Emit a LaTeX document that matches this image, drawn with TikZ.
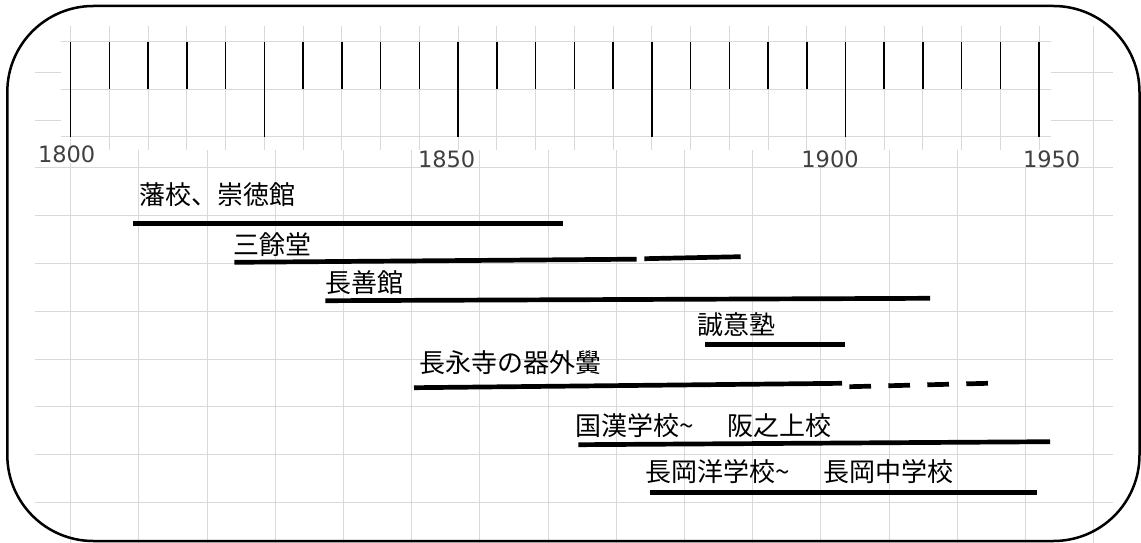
\documentclass[tikz,border=0pt]{standalone}
\usepackage{fontspec}
\usepackage{tikz}
\usepackage{xcolor}
\usetikzlibrary{positioning}
\newfontfamily\jpfont{Noto Sans CJK JP}
\newfontfamily\yearfont{DejaVu Sans}
\definecolor{cellgray}{HTML}{D9D9D9}

\tikzset{
    cell/.style={draw=cellgray, line width=1pt},
    rulertick/.style={draw=black, line width=1.5pt},
    period/.style={draw=black, line width=4.7pt},
    school/.style={anchor=base west, inner sep=0pt, font={\jpfont\fontsize{26}{30}\selectfont}},
    yearlabel/.style={anchor=base west, fill=white, inner xsep=1pt, inner ysep=0pt, text depth=0pt,
        text=black!75, font={\yearfont\fontsize{22.5}{26}\selectfont}}
}

\begin{document}
\begin{tikzpicture}[x=1pt, y=-1pt]
    \useasboundingbox (0,0) rectangle (1141,543);

    % sheet cells
    \foreach \i in {0,...,15}
        \draw[cell] ({70.7+68.2*\i},26) -- ({70.7+68.2*\i},543);
    \foreach \j in {0,...,9}
        \draw[cell] (35,{72.3+47.8*\j}) -- (1113,{72.3+47.8*\j});

    % ruler
    \fill[white] (61,20) rectangle (1051,149.5);
    \foreach \i in {0,...,25}
        \draw[cell] ({70.7+38.74*\i},26) -- ({70.7+38.74*\i},149.5);
    \foreach \y in {41.7,89.3,136.7}
        \draw[cell] (61,\y) -- (1051,\y);
    \foreach \i in {0,...,25}
        \draw[rulertick] ({70.7+38.74*\i},41.7) -- ({70.7+38.74*\i},89.3);
    \foreach \i in {0,5,...,25}
        \draw[rulertick] ({70.7+38.74*\i},89.3) -- ({70.7+38.74*\i},136.7);

    \node[yearlabel] (y1800) at (36.8,162.7) {1800};
    \node[yearlabel] (y1850) at (416.8,167.3) {1850};
    \node[yearlabel] (y1900) at (800.2,167.3) {1900};
    \node[yearlabel] (y1950) at (1021.8,167.3) {1950};

    % schools
    \node[school] (sutoku) at (139,204.5) {藩校、崇徳館};
    \node[school] (sanyo) at (233,254.5) {三餘堂};
    \node[school] (chozen) at (325,292.5) {長善館};
    \node[school] (seii) at (697,334) {誠意塾};
    \node[school] (choei) at (419,372.5) {長永寺の器外黌};
    \node[school] (kokkan) at (575,435) {国漢学校\textasciitilde\hspace{1.3em}阪之上校};
    \node[school] (yogaku) at (645,481.5) {長岡洋学校\textasciitilde\hspace{1.3em}長岡中学校};

    \coordinate (sutokuS) at (133.3,223.3);
    \coordinate (sutokuE) at (563.3,223.3);
    \coordinate (sanyoS) at (234.3,262.3);
    \coordinate (sanyoM) at (636.7,259.2);
    \coordinate (sanyoN) at (644.3,258.7);
    \coordinate (sanyoE) at (740.7,256.7);
    \coordinate (chozenS) at (325.3,300.7);
    \coordinate (chozenE) at (930,298.3);
    \coordinate (seiiS) at (705.3,344.7);
    \coordinate (seiiE) at (845.3,344.7);
    \coordinate (choeiS) at (414,387.7);
    \coordinate (choeiM) at (842,383.3);
    \coordinate (choeiN) at (849.3,386.7);
    \coordinate (choeiE) at (988,383.3);
    \coordinate (kokkanS) at (578.3,444.7);
    \coordinate (kokkanE) at (1050,441.7);
    \coordinate (yogakuS) at (650,492.7);
    \coordinate (yogakuE) at (1036.7,492.7);

    \draw[period] (sutokuS) -- (sutokuE);
    \draw[period] (sanyoS) -- (sanyoM);
    \draw[period] (sanyoN) -- (sanyoE);
    \draw[period] (chozenS) -- (chozenE);
    \draw[period] (seiiS) -- (seiiE);
    \draw[period] (choeiS) -- (choeiM);
    \draw[period, dash pattern=on 21.7pt off 17.3pt] (choeiN) -- (choeiE);
    \draw[period] (kokkanS) -- (kokkanE);
    \draw[period] (yogakuS) -- (yogakuE);

    % frame
    \draw[line width=2.5pt, rounded corners=86pt] (7.3,6) rectangle (1139.5,541);
\end{tikzpicture}
\end{document}
